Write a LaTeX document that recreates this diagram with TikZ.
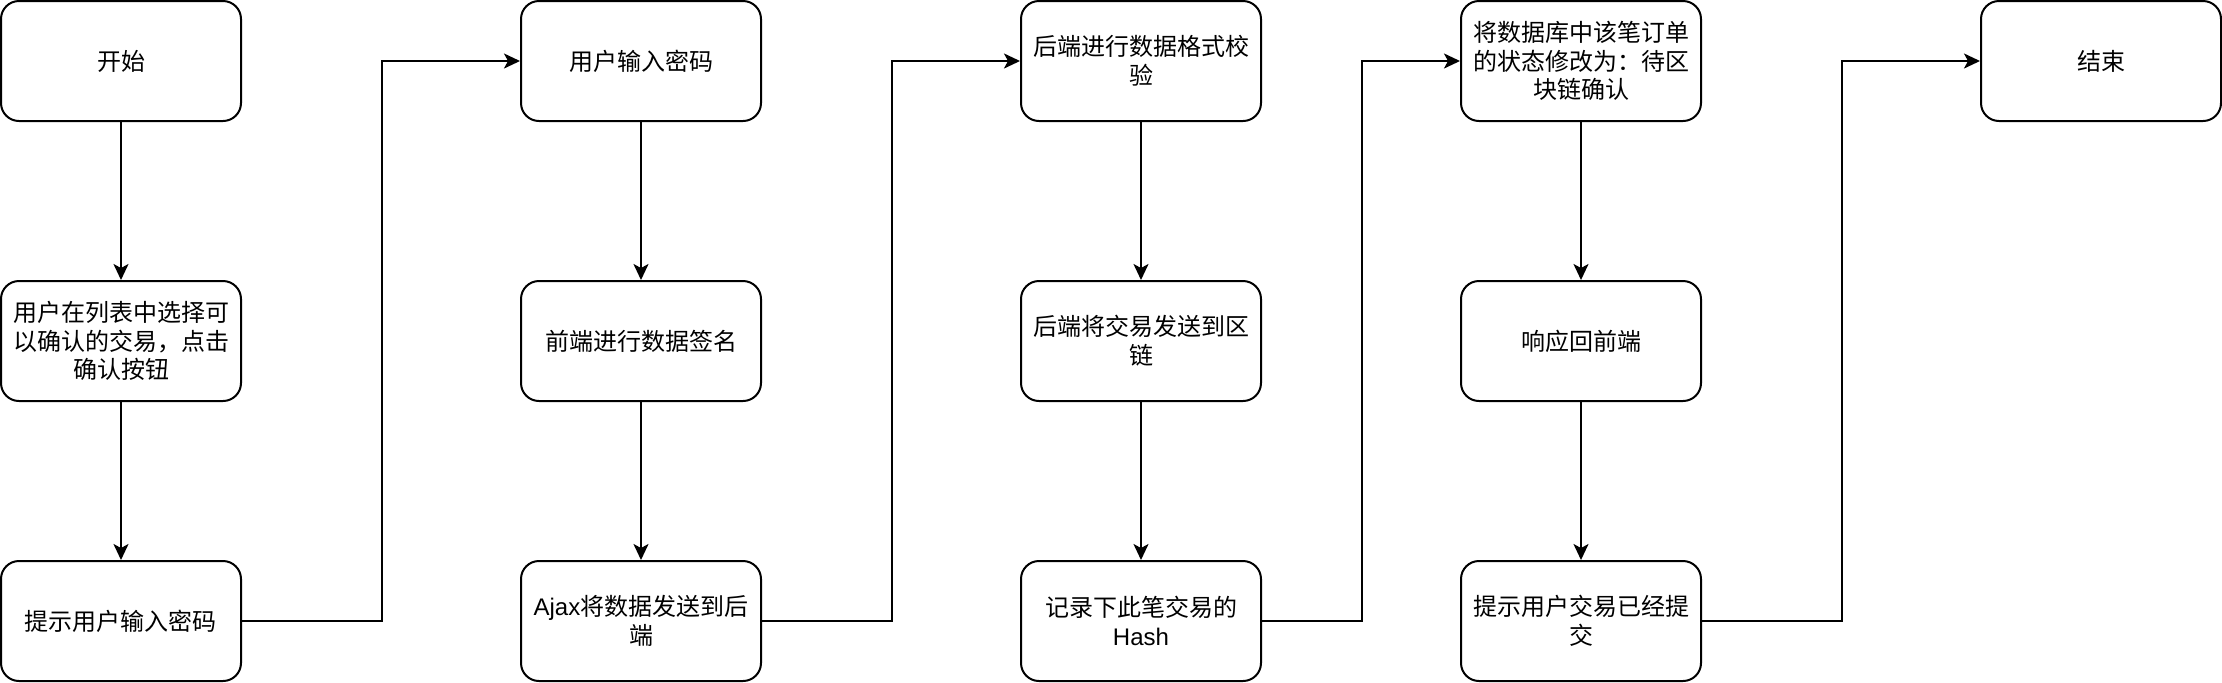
\documentclass[tikz,border=0pt]{standalone}
\usepackage{fontspec}
\setmainfont{Noto Sans CJK SC}
\newfontfamily\lfont{Liberation Sans}
\usepackage{tikz}
\usetikzlibrary{arrows.meta,positioning}

\begin{document}
\begin{tikzpicture}[
	stepbox/.style={rectangle, draw, line width=1pt, rounded corners=9pt, minimum width=120pt, minimum height=60pt, inner sep=2pt, align=center, font=\fontsize{12}{14.4}\selectfont},
	flow/.style={line width=1pt, -{Stealth[length=8pt, width=7.5pt, inset=2pt]}},
	node distance=79pt,
]
\useasboundingbox (0,0) rectangle (1111pt,-341pt);
\node[stepbox] (start) at (60.5pt,-30.5pt) {开始};
\node[stepbox] (choose) [below=of start]{用户在列表中选择可\\以确认的交易，点击\\确认按钮};
\node[stepbox] (tipinput) [below=of choose]{提示用户输入密码};
\node[stepbox] (input) [right=139pt of start]{用户输入密码};
\node[stepbox] (sign) [below=of input]{前端进行数据签名};
\node[stepbox] (ajax) [below=of sign]{{\lfont Ajax}将数据发送到后\\端};
\node[stepbox] (check) [right=129pt of input]{后端进行数据格式校\\验};
\node[stepbox] (send) [below=of check]{后端将交易发送到区\\链};
\node[stepbox] (record) [below=of send]{记录下此笔交易的\\{\lfont Hash}};
\node[stepbox] (update) [right=99pt of check]{将数据库中该笔订单\\的状态修改为：待区\\块链确认};
\node[stepbox] (respond) [below=of update]{响应回前端};
\node[stepbox] (tipdone) [below=of respond]{提示用户交易已经提\\交};
\node[stepbox] (finish) [right=139pt of update]{结束};

\draw[flow](start)--(choose);
\draw[flow](choose)--(tipinput);
\draw[flow](tipinput.east)--++(70pt,0)|-(input.west);
\draw[flow](input)--(sign);
\draw[flow](sign)--(ajax);
\draw[flow](ajax.east)--++(65pt,0)|-(check.west);
\draw[flow](check)--(send);
\draw[flow](send)--(record);
\draw[flow](record.east)--++(50pt,0)|-(update.west);
\draw[flow](update)--(respond);
\draw[flow](respond)--(tipdone);
\draw[flow](tipdone.east)--++(70pt,0)|-(finish.west);
\end{tikzpicture}
\end{document}
